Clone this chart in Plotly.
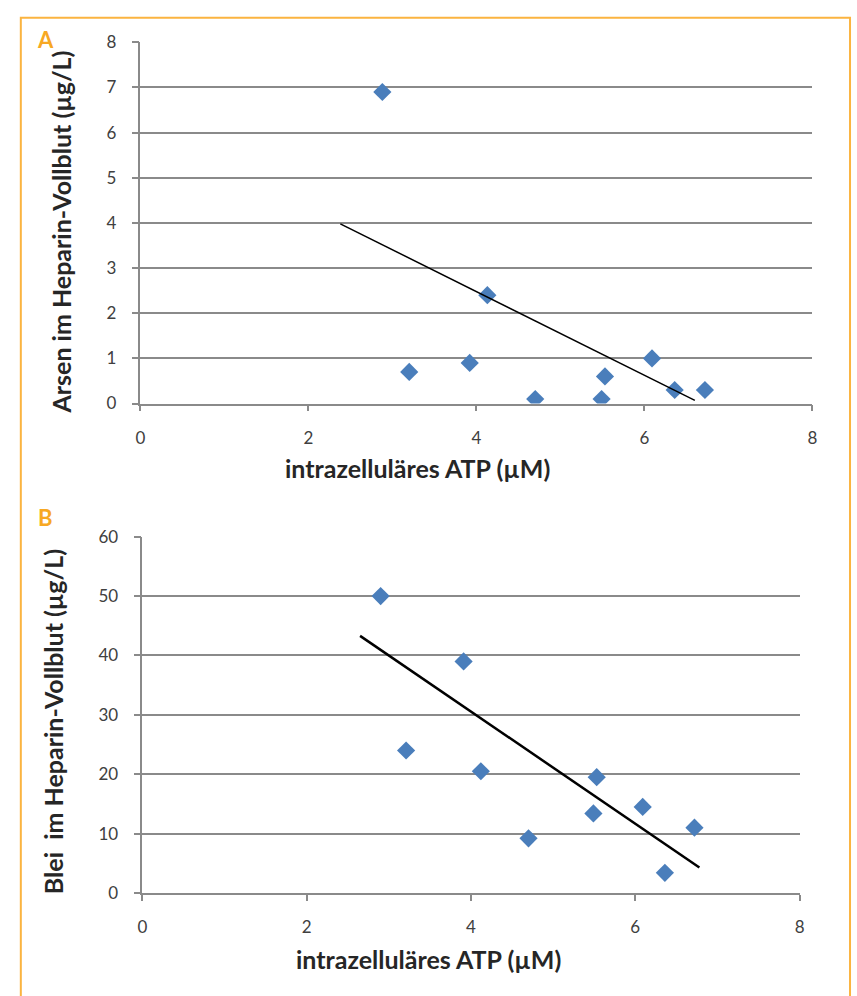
import plotly.graph_objects as go

# ---- data ----
atp_a = [2.88, 3.20, 3.92, 4.13, 4.70, 5.49, 5.53, 6.09, 6.36, 6.72]
arsen = [6.9, 0.7, 0.9, 2.4, 0.1, 0.1, 0.6, 1.0, 0.3, 0.3]
trend_a_x = [2.38, 6.60]
trend_a_y = [3.98, 0.07]

atp_b = [2.90, 3.91, 3.21, 4.12, 5.53, 5.49, 6.09, 6.72, 4.70, 6.36]
blei = [50.0, 39.0, 24.0, 20.5, 19.5, 13.4, 14.5, 11.0, 9.2, 3.4]
trend_b_x = [2.65, 6.78]
trend_b_y = [43.3, 4.3]

x_ticks = [0, 2, 4, 6, 8]
y_ticks_a = [0, 1, 2, 3, 4, 5, 6, 7, 8]
y_ticks_b = [0, 10, 20, 30, 40, 50, 60]

x_title = "intrazelluläres ATP (µM)"
y_title_a = "Arsen im Heparin-Vollblut (µg/L)"
y_title_b = "Blei  im Heparin-Vollblut (µg/L)"

W, H = 857, 996
BLUE = "#4A7EBB"
GRID = "#8A8A8A"
ORANGE = "#F7A823"
FONT = "Lato"

fig = go.Figure()
fig.add_trace(go.Scatter(x=atp_a, y=arsen, mode="markers", xaxis="x", yaxis="y",
                         marker=dict(symbol="diamond", size=14, color=BLUE), showlegend=False))
fig.add_trace(go.Scatter(x=trend_a_x, y=trend_a_y, mode="lines", xaxis="x", yaxis="y",
                         line=dict(color="black", width=1.5), showlegend=False))
fig.add_trace(go.Scatter(x=atp_b, y=blei, mode="markers", xaxis="x2", yaxis="y2",
                         marker=dict(symbol="diamond", size=14, color=BLUE), showlegend=False))
fig.add_trace(go.Scatter(x=trend_b_x, y=trend_b_y, mode="lines", xaxis="x2", yaxis="y2",
                         line=dict(color="black", width=2.5), showlegend=False))

def px_x(p):
    return p / W

def px_y(p):
    return 1 - p / H

tickfont = dict(family=FONT, size=17, color="#404040")
xcommon = dict(range=[0, 8], tickvals=x_ticks, showgrid=False, zeroline=False,
               showline=True, linecolor=GRID, linewidth=1.5, ticks="outside",
               ticklen=6, tickcolor=GRID, tickwidth=1.5, tickfont=tickfont,
               ticklabelstandoff=12, fixedrange=True)
ycommon = dict(showgrid=True, gridcolor=GRID, gridwidth=2, zeroline=False,
               showline=True, linecolor=GRID, linewidth=1.5, ticks="outside",
               ticklen=7, tickcolor=GRID, tickwidth=1.5, tickfont=tickfont,
               ticklabelstandoff=12, fixedrange=True)

fig.update_layout(
    width=W, height=H,
    margin=dict(l=0, r=0, t=0, b=0),
    paper_bgcolor="white", plot_bgcolor="white",
    xaxis=dict(domain=[px_x(137), px_x(817)], anchor="y", **xcommon),
    yaxis=dict(domain=[px_y(401), px_y(32)], anchor="x", range=[0, 8],
               tickvals=y_ticks_a, **ycommon),
    xaxis2=dict(domain=[px_x(139), px_x(804)], anchor="y2", **xcommon),
    yaxis2=dict(domain=[px_y(901), px_y(537)], anchor="x2", range=[0, 60],
                tickvals=y_ticks_b, **ycommon),
)

title_font = dict(family=FONT, size=25, color="#262626")
ann = [
    dict(text="<b>" + x_title + "</b>", x=px_x(417), y=px_y(467)),
    dict(text="<b>" + x_title + "</b>", x=px_x(428), y=px_y(968)),
    dict(text="<b>" + y_title_a + "</b>", x=px_x(57), y=px_y(226), textangle=-90),
    dict(text="<b>" + y_title_b + "</b>", x=px_x(48), y=px_y(726), textangle=-90),
]
for a in ann:
    fig.add_annotation(xref="paper", yref="paper", showarrow=False,
                       xanchor="center", yanchor="middle", font=title_font, **a)

fig.add_annotation(text="<b>A</b>", xref="paper", yref="paper", x=px_x(41), y=px_y(29),
                   showarrow=False, xanchor="center", yanchor="middle",
                   font=dict(family=FONT, size=22, color=ORANGE))
fig.add_annotation(text="<b>B</b>", xref="paper", yref="paper", x=px_x(41), y=px_y(517),
                   showarrow=False, xanchor="center", yanchor="middle",
                   font=dict(family=FONT, size=22, color=ORANGE))

fig.add_shape(type="rect", xref="paper", yref="paper",
              x0=px_x(16), x1=px_x(855), y0=-0.02, y1=px_y(7),
              line=dict(color="#FBB440", width=2), fillcolor="rgba(0,0,0,0)", layer="below")

fig.write_html(
    "out.html",
    config={"displayModeBar": False},
    post_script="var d=document.getElementById('{plot_id}');"
                "document.body.style.margin='0';"
                "d.style.position='fixed';d.style.left='0px';d.style.top='0px';",
)
